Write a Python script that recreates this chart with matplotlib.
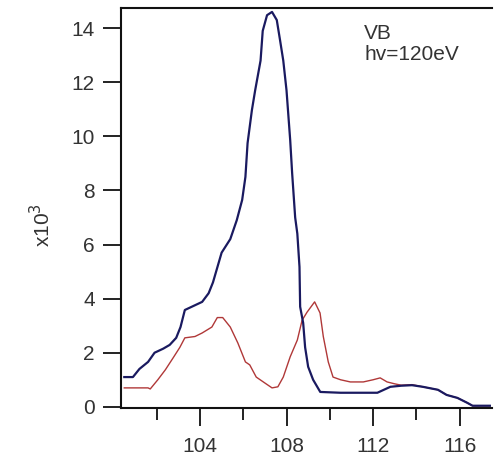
import matplotlib
matplotlib.use('agg')
import matplotlib.pyplot as plt
import matplotlib.ticker as plticker

# valence band spectra, counts in units of 1e3
blue_x = [100.5, 100.9, 101.2, 101.6, 101.9, 102.3, 102.6, 102.9, 103.1, 103.3,
          103.7, 104.1, 104.4, 104.6, 105.0, 105.4, 105.7, 105.95, 106.1, 106.2,
          106.4, 106.55, 106.8, 106.9, 107.1, 107.33, 107.55, 107.7, 107.85, 108.0,
          108.17, 108.26, 108.4, 108.5, 108.6, 108.63, 108.77, 108.86, 109.0, 109.23,
          109.56, 110.5, 111.5, 112.2, 112.8, 113.3, 113.8, 114.3, 115.0, 115.4,
          115.9, 116.35, 116.6, 117.4]
blue_y = [1.1, 1.1, 1.4, 1.66, 2.0, 2.15, 2.29, 2.55, 2.95, 3.58,
          3.73, 3.88, 4.2, 4.6, 5.7, 6.2, 6.9, 7.65, 8.5, 9.75,
          10.97, 11.7, 12.8, 13.9, 14.48, 14.6, 14.3, 13.56, 12.8, 11.7,
          9.86, 8.64, 7.0, 6.4, 5.17, 3.7, 3.1, 2.2, 1.48, 1.0,
          0.55, 0.52, 0.52, 0.52, 0.74, 0.78, 0.8, 0.74, 0.63, 0.44,
          0.33, 0.15, 0.04, 0.04]

red_x = [100.5, 101.6, 101.7, 102.05, 102.4, 102.75, 103.07, 103.3, 103.77, 104.1,
         104.55, 104.8, 105.05, 105.4, 105.75, 106.1, 106.3, 106.6, 107.0, 107.33,
         107.6, 107.85, 108.17, 108.5, 108.72, 108.95, 109.3, 109.55, 109.7, 109.93,
         110.15, 110.5, 110.95, 111.55, 112.0, 112.33, 112.65, 113.0, 113.3, 113.8,
         114.3, 115.0, 115.4, 115.9, 116.35, 116.6, 117.4]
red_y = [0.7, 0.7, 0.66, 1.0, 1.37, 1.8, 2.2, 2.55, 2.6, 2.73,
         2.95, 3.3, 3.3, 2.95, 2.36, 1.66, 1.55, 1.1, 0.88, 0.7,
         0.74, 1.1, 1.85, 2.47, 3.2, 3.5, 3.88, 3.47, 2.6, 1.66,
         1.1, 1.0, 0.92, 0.92, 1.0, 1.07, 0.92, 0.85, 0.8, 0.82,
         0.74, 0.63, 0.44, 0.33, 0.15, 0.04, 0.04]

x_major = [104, 108, 112, 116]
x_minor = [102, 106, 110, 114]
y_major = [0, 2, 4, 6, 8, 10, 12, 14]
label_text = "VB\nhv=120eV"

plt.rcParams['font.family'] = ['Liberation Sans', 'DejaVu Sans']
text_color = '#333333'

fig = plt.figure(figsize=(4.94, 4.63), dpi=100)
ax = fig.add_axes([0.245, 0.119, 0.751, 0.864])

ax.plot(red_x, red_y, color='#b03838', linewidth=1.0)
ax.plot(blue_x, blue_y, color='#1a1a60', linewidth=1.6)

ax.set_xlim(100.35, 117.5)
ax.set_ylim(-0.04, 14.75)

ax.xaxis.set_major_locator(plticker.FixedLocator(x_major))
ax.xaxis.set_minor_locator(plticker.FixedLocator(x_minor))
ax.yaxis.set_major_locator(plticker.FixedLocator(y_major))

ax.tick_params(axis='both', which='major', direction='out', length=13, width=1.3,
               labelsize=15, labelcolor=text_color, color='#111111')
ax.tick_params(axis='x', which='major', pad=8)
ax.tick_params(axis='y', which='major', pad=6)
ax.tick_params(axis='x', which='minor', direction='out', length=8.5, width=1.3, color='#111111')

ax.spines['right'].set_visible(False)
for side in ['left', 'bottom', 'top']:
    ax.spines[side].set_linewidth(1.5)
    ax.spines[side].set_color('#111111')

ax.text(111.6, 14.15, label_text, fontsize=15, color=text_color, va='top', ha='left',
        linespacing=1.15)

fig.text(42 / 494, 1 - 225 / 463, r'x10$^3$', rotation=90, fontsize=15,
         color=text_color, ha='center', va='center')

plt.savefig('out.png', dpi=100)
plt.close(fig)
